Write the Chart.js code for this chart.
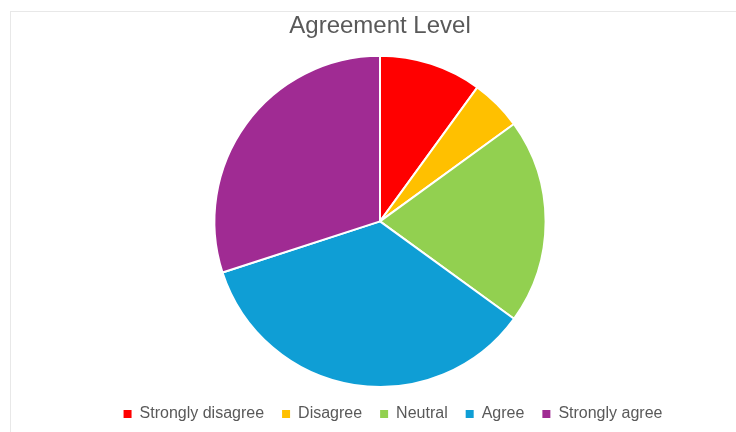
<!DOCTYPE html>
<html>
<head>
<meta charset="utf-8">
<script src="https://cdn.jsdelivr.net/npm/chart.js@4.4.1/dist/chart.umd.min.js"></script>
<style>
    html, body { margin: 0; padding: 0; background: #ffffff; overflow: hidden; }
    #frame {
        position: absolute; left: 10px; top: 11px; width: 800px; height: 500px;
        border-left: 1px solid #e8e8e8; border-top: 1px solid #e8e8e8;
    }
    #wrap { position: absolute; left: 0; top: 0; width: 736px; height: 432px; }
</style>
</head>
<body>
<div id="frame"></div>
<div id="wrap"><canvas id="agreementChart"></canvas></div>
<script>
// --- DADOS ---
const categorias = ["Strongly disagree", "Disagree", "Neutral", "Agree", "Strongly agree"];
const valores = [10, 5, 20, 35, 30];
const cores = ["#FF0000", "#FFC000", "#92D050", "#0F9ED5", "#A02B93"];
const titulo = "Agreement Level";

const corTexto = "#595959";
const fonte = "'Liberation Sans', Arial, sans-serif";

// legenda sem contorno branco nos quadradinhos
const gerarLegendas = (chart) =>
    Chart.overrides.pie.plugins.legend.labels.generateLabels(chart)
        .map(item => ({ ...item, lineWidth: 0 }));

new Chart(document.getElementById("agreementChart"), {
    type: 'pie',
    data: {
        labels: categorias,
        datasets: [{
            data: valores,
            backgroundColor: cores,
            borderColor: '#ffffff',
            borderWidth: 2
        }]
    },
    options: {
        responsive: true,
        maintainAspectRatio: false,
        animation: false,
        layout: { padding: { left: 50, right: 0, top: 0, bottom: 0 } },
        plugins: {
            title: {
                display: true,
                text: titulo,
                fullSize: false,
                color: corTexto,
                font: { family: fonte, size: 24, weight: 'normal' },
                padding: { top: 12, bottom: 14 }
            },
            // caixa vazia à direita: empurra a pizza um pouco para a esquerda da legenda
            subtitle: {
                display: true,
                text: '',
                position: 'right',
                font: { size: 20 },
                padding: { top: 1, bottom: 1 }
            },
            legend: {
                position: 'bottom',
                labels: {
                    color: corTexto,
                    font: { family: fonte, size: 16 },
                    boxWidth: 8,
                    boxHeight: 8,
                    padding: 18,
                    generateLabels: gerarLegendas
                }
            },
            tooltip: { enabled: false }
        }
    }
});
</script>
</body>
</html>
